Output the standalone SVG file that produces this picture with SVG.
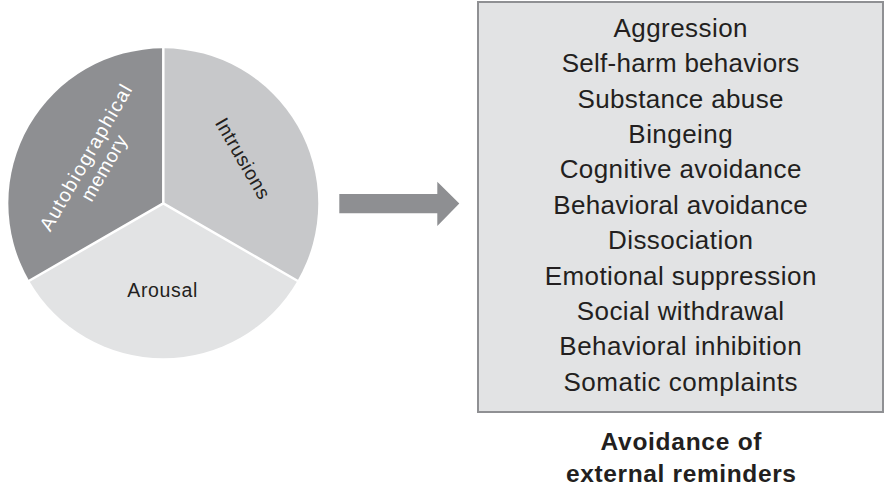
<svg xmlns="http://www.w3.org/2000/svg" width="885" height="489" viewBox="0 0 885 489">
<style>
.t{font-family:"Liberation Sans",Arial,Helvetica,sans-serif;font-size:26px;fill:#231f20;text-anchor:middle}
.b{font-family:"Liberation Sans",Arial,Helvetica,sans-serif;font-size:24.5px;font-weight:bold;fill:#231f20;text-anchor:middle}
.p{font-family:"Liberation Sans",Arial,Helvetica,sans-serif;font-size:19.5px;text-anchor:middle}
.sep{stroke:#ffffff;stroke-width:2.5;fill:none}
</style>
<rect width="885" height="489" fill="#ffffff"/>
<g id="pie">
  <g id="memory">
    <path d="M163.3,203.3 L163.3,48.3 A155,155 0 0 0 29.1,280.8 Z" fill="#8e8f92"/>
    <g transform="translate(95,163) rotate(-60)">
      <text class="p" x="0" y="-4" fill="#ffffff" textLength="165" lengthAdjust="spacing">Autobiographical</text>
      <text class="p" x="0" y="17" fill="#ffffff" textLength="73" lengthAdjust="spacing">memory</text>
    </g>
  </g>
  <g id="intrusions">
    <path d="M163.3,203.3 L163.3,48.3 A155,155 0 0 1 297.5,280.8 Z" fill="#c7c8ca"/>
    <text class="p" transform="translate(237,161.7) rotate(60)" x="0" y="0" fill="#231f20" textLength="90" lengthAdjust="spacing">Intrusions</text>
  </g>
  <g id="arousal">
    <path d="M163.3,203.3 L297.5,280.8 A155,155 0 0 1 29.1,280.8 Z" fill="#e2e3e4"/>
    <text class="p" x="162.3" y="296.7" fill="#231f20" textLength="70" lengthAdjust="spacing">Arousal</text>
  </g>
  <g id="separators">
    <path class="sep" d="M163.3,203.3 L163.3,46 M163.3,203.3 L299.5,282 M163.3,203.3 L27.1,282"/>
  </g>
</g>
<g id="connectors">
  <path d="M339.3,194 L437.3,194 L437.3,181.7 L459.3,203.5 L437.3,226 L437.3,213.3 L339.3,213.3 Z" fill="#8e8f92"/>
</g>
<g id="avoidance">
  <rect x="478" y="2" width="405" height="410" fill="#e2e3e4" stroke="#8f9093" stroke-width="2"/>
  <text class="t" x="680.5" y="36.7" textLength="134" lengthAdjust="spacing">Aggression</text>
  <text class="t" x="680.5" y="72.1" textLength="237.7" lengthAdjust="spacing">Self-harm behaviors</text>
  <text class="t" x="680.5" y="107.5" textLength="206" lengthAdjust="spacing">Substance abuse</text>
  <text class="t" x="680.5" y="142.9" textLength="104.3" lengthAdjust="spacing">Bingeing</text>
  <text class="t" x="680.5" y="178.3" textLength="241.7" lengthAdjust="spacing">Cognitive avoidance</text>
  <text class="t" x="680.5" y="213.7" textLength="254.3" lengthAdjust="spacing">Behavioral avoidance</text>
  <text class="t" x="680.5" y="249.1" textLength="145" lengthAdjust="spacing">Dissociation</text>
  <text class="t" x="680.5" y="284.5" textLength="271.7" lengthAdjust="spacing">Emotional suppression</text>
  <text class="t" x="680.5" y="319.9" textLength="207.3" lengthAdjust="spacing">Social withdrawal</text>
  <text class="t" x="680.5" y="355.3" textLength="242.3" lengthAdjust="spacing">Behavioral inhibition</text>
  <text class="t" x="680.5" y="390.7" textLength="234" lengthAdjust="spacing">Somatic complaints</text>
</g>
<g id="caption">
  <text class="b" x="681" y="449.5" textLength="161" lengthAdjust="spacing">Avoidance of</text>
  <text class="b" x="681" y="482" textLength="230" lengthAdjust="spacing">external reminders</text>
</g>
</svg>
